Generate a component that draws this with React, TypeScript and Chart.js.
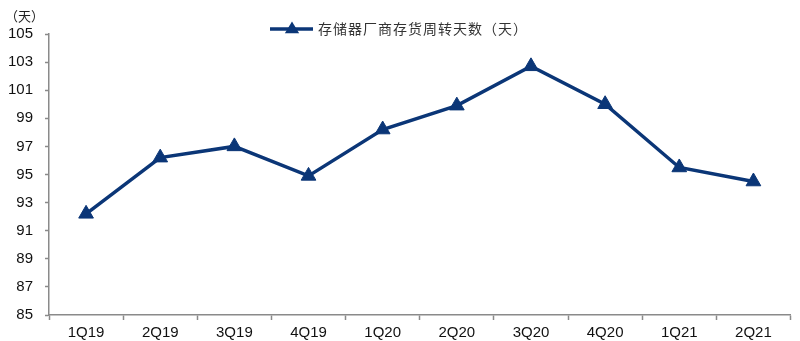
import React, { useEffect, useRef } from "react";
import { Chart, registerables } from "chart.js";

Chart.register(...registerables);

const categories = ["1Q19", "2Q19", "3Q19", "4Q19", "1Q20", "2Q20", "3Q20", "4Q20", "1Q21", "2Q21"];
const inventoryDays = [92.2, 96.2, 97.0, 94.9, 98.2, 99.9, 102.7, 100.0, 95.5, 94.5];
const seriesLabel = "存储器厂商存货周转天数（天）";
const unitLabel = "（天）";
const yMin = 85;
const yMax = 105;
const yStep = 2;

const NAVY = "#0b3677";
const AXIS = "#8a8a8a";
const CJK = '"Noto Sans CJK SC", "Noto Sans", sans-serif';

const overlayPlugin = {
  id: "overlay",
  afterDraw(chart: any) {
    const ctx = chart.ctx;
    ctx.save();
    // unit label
    ctx.fillStyle = "#222";
    ctx.font = `13px ${CJK}`;
    ctx.textBaseline = "middle";
    ctx.textAlign = "left";
    ctx.fillText(unitLabel, 5, 16);
    // legend
    const ly = 29;
    ctx.strokeStyle = NAVY;
    ctx.lineWidth = 3.5;
    ctx.beginPath();
    ctx.moveTo(270, ly);
    ctx.lineTo(313, ly);
    ctx.stroke();
    ctx.fillStyle = NAVY;
    const r = 7.5;
    const cx = 292;
    ctx.beginPath();
    ctx.moveTo(cx, ly - r);
    ctx.lineTo(cx + r * 0.95, ly + r * 0.55);
    ctx.lineTo(cx - r * 0.95, ly + r * 0.55);
    ctx.closePath();
    ctx.fill();
    ctx.fillStyle = "#333";
    ctx.font = `14px ${CJK}`;
    ctx.textBaseline = "middle";
    (ctx as any).letterSpacing = "1px";
    ctx.fillText(seriesLabel, 318, ly);
    ctx.restore();
  },
};

export default function App() {
  const ref = useRef<HTMLCanvasElement | null>(null);
  useEffect(() => {
    document.body.style.margin = "0";
    const chart = new Chart(ref.current as HTMLCanvasElement, {
      type: "line",
      data: {
        labels: categories,
        datasets: [
          {
            label: seriesLabel,
            data: inventoryDays,
            borderColor: NAVY,
            backgroundColor: NAVY,
            borderWidth: 3.5,
            pointStyle: "triangle",
            pointRadius: 8.5,
            pointHoverRadius: 8.5,
            pointBorderWidth: 1,
            pointBackgroundColor: NAVY,
            pointBorderColor: NAVY,
            tension: 0,
          },
        ],
      },
      options: {
        animation: false,
        responsive: true,
        maintainAspectRatio: false,
        layout: { padding: { top: 34, right: 9, left: 0, bottom: 0 } },
        plugins: {
          legend: { display: false },
          tooltip: { enabled: false },
          title: { display: false },
        },
        scales: {
          x: {
            offset: true,
            grid: {
              offset: true,
              drawOnChartArea: false,
              drawTicks: true,
              tickLength: 5,
              tickColor: AXIS,
              tickWidth: 1.5,
            },
            border: { color: AXIS, width: 1.5 },
            ticks: {
              color: "#111",
              font: { family: '"Liberation Sans", Arial, sans-serif', size: 15 },
              padding: 4,
              maxRotation: 0,
              autoSkip: false,
            },
            afterFit(scale: any) {
              scale.height = 26;
            },
          },
          y: {
            min: yMin,
            max: yMax,
            grid: {
              drawOnChartArea: false,
              drawTicks: true,
              tickLength: 4,
              tickColor: AXIS,
              tickWidth: 1.5,
            },
            border: { color: AXIS, width: 1.5 },
            ticks: {
              stepSize: yStep,
              color: "#111",
              font: { family: '"Liberation Sans", Arial, sans-serif', size: 15 },
              padding: 12,
            },
            afterFit(scale: any) {
              scale.width = 49;
            },
          },
        },
      },
      plugins: [overlayPlugin],
    });
    return () => chart.destroy();
  }, []);
  return (
    <div style={{ position: "fixed", left: 0, top: 0, width: 800, height: 341 }}>
      <canvas ref={ref} />
    </div>
  );
}
